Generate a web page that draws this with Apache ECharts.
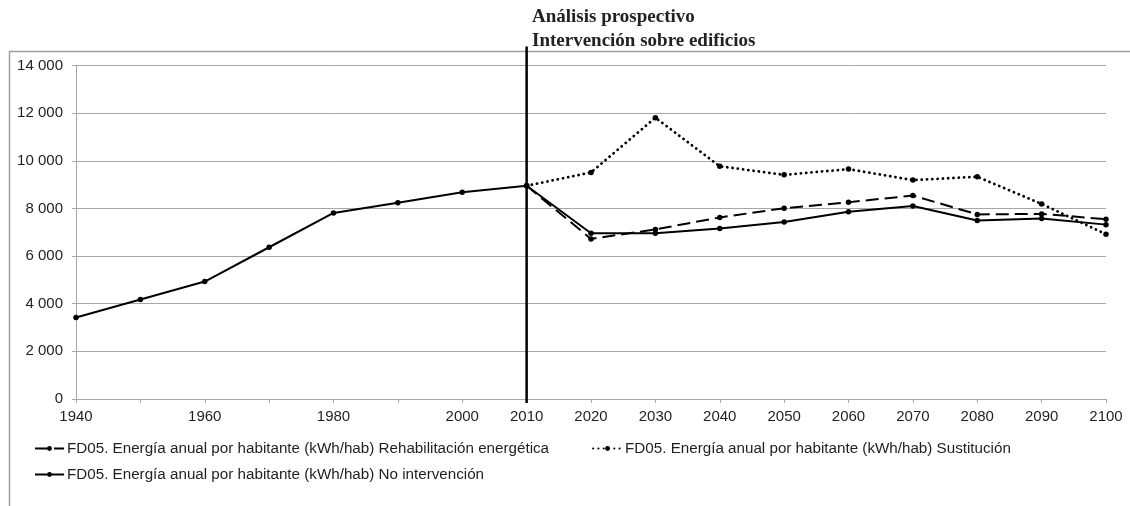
<!DOCTYPE html>
<html>
<head>
<meta charset="utf-8">
<script src="https://cdn.jsdelivr.net/npm/echarts@6/dist/echarts.min.js"></script>
<style>
  html, body { margin: 0; padding: 0; background: #fff; }
  #chart { width: 1130px; height: 506px; }
</style>
</head>
<body>
<div id="chart"></div>
<script>
// Decades on the category axis and the labels printed under each tick
const years = ['1940','1950','1960','1970','1980','1990','2000','2010','2020','2030','2040','2050','2060','2070','2080','2090','2100'];
const tickLabels = ['1940','','1960','','1980','','2000','2010','2020','2030','2040','2050','2060','2070','2080','2090','2100'];

// Annual energy per inhabitant (kWh/hab) for each scenario
const rehabilitacion = [null,null,null,null,null,null,null,8950,6720,7120,7620,8010,8260,8540,7750,7770,7550];
const sustitucion    = [null,null,null,null,null,null,null,8950,9510,11810,9770,9410,9650,9190,9330,8190,6920];
const noIntervencion = [3420,4180,4930,6370,7810,8240,8680,8950,6960,6960,7160,7430,7860,8100,7490,7580,7320];

const yTicks = { min: 0, max: 14000, interval: 2000 };

const names = [
  'FD05. Energía anual por habitante (kWh/hab) Rehabilitación energética',
  'FD05. Energía anual por habitante (kWh/hab) Sustitución',
  'FD05. Energía anual por habitante (kWh/hab) No intervención'
];

const chart = echarts.init(document.getElementById('chart'), null, { renderer: 'canvas' });
const textColor = '#1f1f1f';
const gridColor = '#a6a6a6';
const sans = '"Liberation Sans", Arial, sans-serif';

function fmtThousands(v) {
  return String(v).replace(/\B(?=(\d{3})+(?!\d))/g, ' ');
}

const baseSeries = {
  type: 'line',
  symbol: 'circle',
  symbolSize: 5.5,
  showSymbol: true,
  connectNulls: false,
  animation: false,
  itemStyle: { color: '#000' }
};

const legendText = { fontFamily: sans, fontSize: 15.2, color: textColor, padding: [0, 0, 0, -2] };

chart.setOption({
  animation: false,
  backgroundColor: '#fff',
  title: {
    text: 'Análisis prospectivo\nIntervención sobre edificios',
    left: 532,
    top: 5,
    padding: 0,
    textStyle: {
      fontFamily: '"Liberation Serif", "Times New Roman", serif',
      fontWeight: 'bold',
      fontSize: 19,
      lineHeight: 24,
      color: '#222'
    }
  },
  legend: [
    {
      data: [names[0], names[1]],
      left: 34,
      top: 441,
      padding: 0,
      itemWidth: 29,
      itemHeight: 6,
      itemGap: 43,
      textStyle: legendText
    },
    {
      data: [names[2]],
      left: 34,
      top: 467,
      padding: 0,
      itemWidth: 29,
      itemHeight: 6,
      textStyle: legendText
    }
  ],
  grid: { left: 76, right: 24, top: 65.5, bottom: 107 },
  xAxis: {
    type: 'category',
    data: years,
    boundaryGap: false,
    axisLine: { lineStyle: { color: gridColor, width: 1 } },
    axisTick: { show: true, interval: 0, length: 4, lineStyle: { color: gridColor } },
    axisLabel: {
      interval: 0,
      margin: 10,
      fontFamily: sans,
      fontSize: 15,
      color: textColor,
      formatter: (v, i) => tickLabels[i]
    },
    splitLine: { show: false }
  },
  yAxis: {
    type: 'value',
    min: yTicks.min,
    max: yTicks.max,
    interval: yTicks.interval,
    axisLine: { show: true, lineStyle: { color: gridColor, width: 1 } },
    axisTick: { show: true, length: 4, lineStyle: { color: gridColor } },
    axisLabel: {
      margin: 13,
      fontFamily: sans,
      fontSize: 15,
      color: textColor,
      formatter: fmtThousands
    },
    splitLine: { lineStyle: { color: gridColor, width: 1 } }
  },
  series: [
    Object.assign({}, baseSeries, {
      name: names[0],
      data: rehabilitacion,
      z: 3,
      lineStyle: { color: '#000', width: 2, type: [13, 6] }
    }),
    Object.assign({}, baseSeries, {
      name: names[1],
      data: sustitucion,
      z: 2,
      lineStyle: { color: '#000', width: 2.8, type: [0.1, 5.2], cap: 'round' }
    }),
    Object.assign({}, baseSeries, {
      name: names[2],
      data: noIntervencion,
      z: 4,
      lineStyle: { color: '#000', width: 2 }
    })
  ]
});

// Frame of the chart area and the vertical divider at 2010, positioned from the axes
const x2010 = chart.convertToPixel({ xAxisIndex: 0 }, '2010');
const yTop = chart.convertToPixel({ yAxisIndex: 0 }, yTicks.max);
const yBottom = chart.convertToPixel({ yAxisIndex: 0 }, yTicks.min);

chart.setOption({
  graphic: [
    {
      type: 'rect',
      silent: true,
      shape: { x: 9.5, y: 51.5, width: 1200, height: 600 },
      style: { fill: null, stroke: '#a0a0a0', lineWidth: 1.5 },
      z: 0
    },
    {
      type: 'line',
      silent: true,
      shape: { x1: x2010, y1: yTop - 19, x2: x2010, y2: yBottom + 4 },
      style: { stroke: '#000', lineWidth: 2.5 },
      z: 10
    }
  ]
});
</script>
</body>
</html>
